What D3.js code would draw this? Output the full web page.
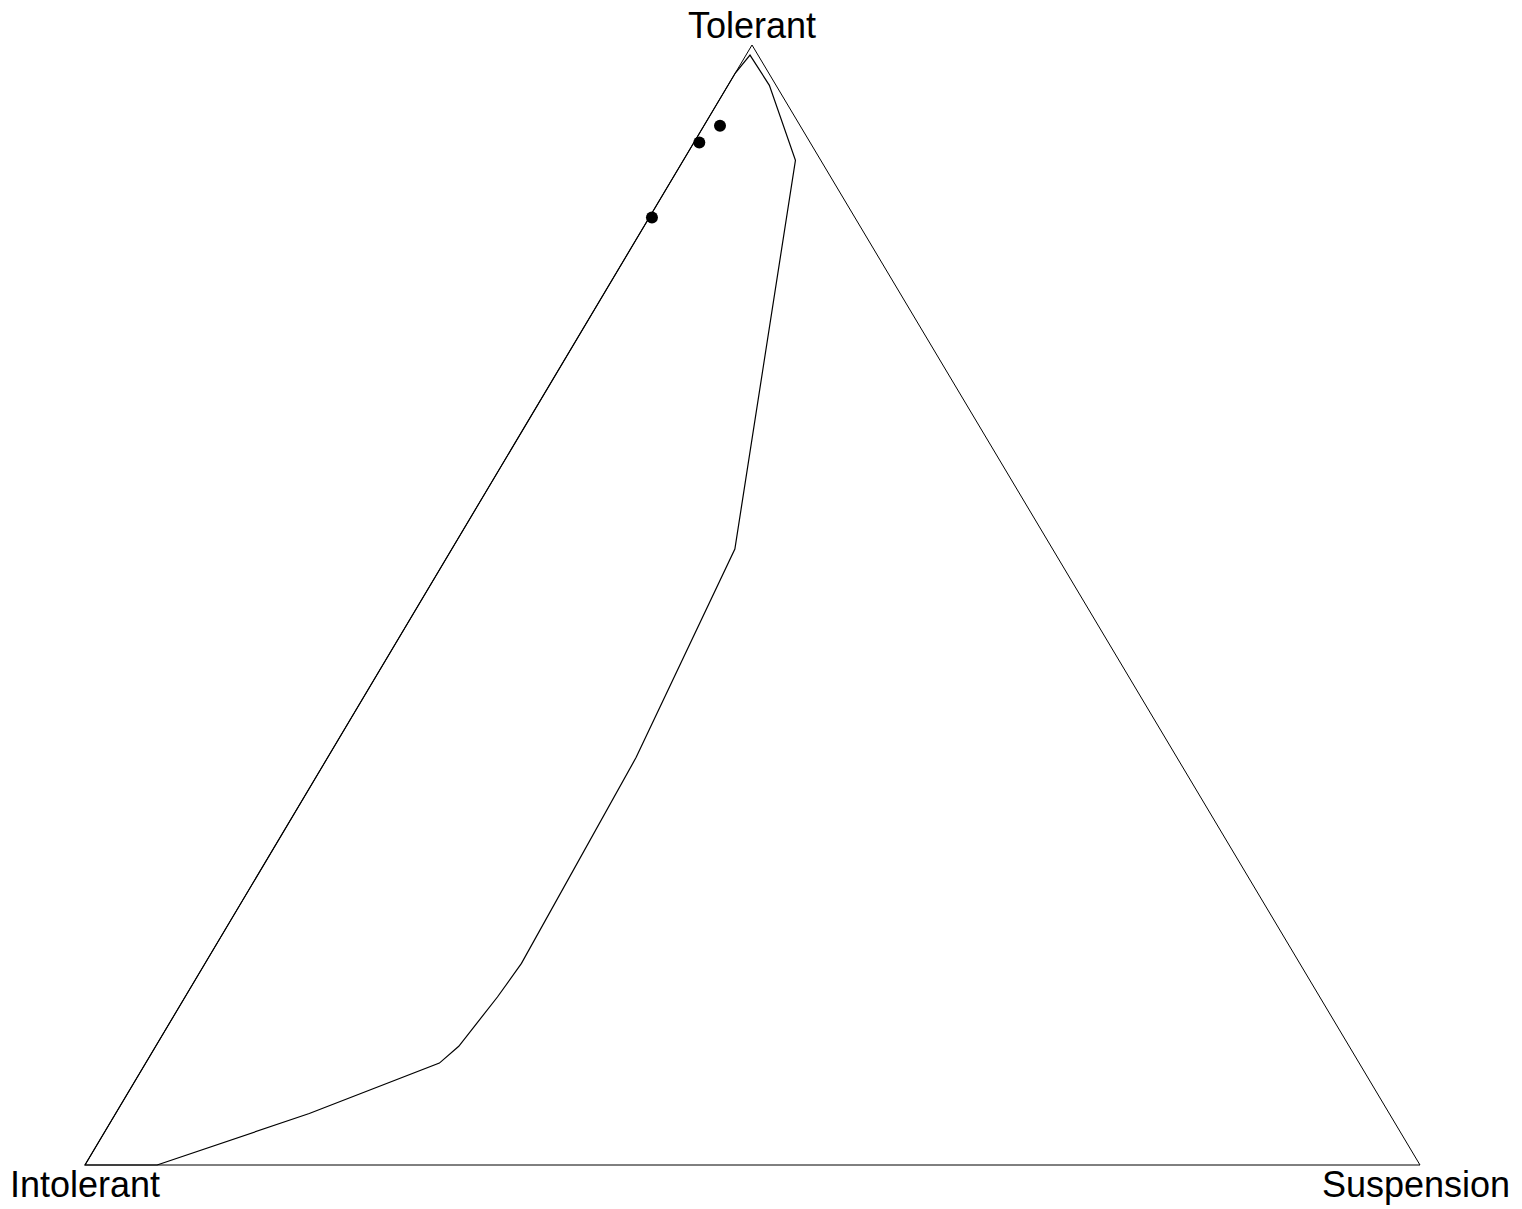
<!DOCTYPE html>
<html>
<head>
<meta charset="utf-8">
<script src="https://cdn.jsdelivr.net/npm/d3@7"></script>
<style>
  html, body { margin: 0; padding: 0; background: #fff; }
  svg { display: block; }
  text { font-family: "Liberation Sans", Arial, sans-serif; }
</style>
</head>
<body>
<svg id="chart" width="1522" height="1209"></svg>
<script>
// Corner labels of the ternary diagram (top, bottom-left, bottom-right)
const cornerLabels = ["Tolerant", "Intolerant", "Suspension"];

// Observed compositions: [tolerant, intolerant, suspension]
const pointTolerant   = [0.928, 0.913, 0.846];
const pointIntolerant = [0.060, 0.083, 0.152];
const pointSuspension = [0.012, 0.004, 0.002];

// Envelope polygon of possible compositions: [tolerant, suspension], intolerant = remainder
const envTolerant   = [0.000, 0.046, 0.091, 0.106, 0.150, 0.180, 0.364, 0.550, 0.897, 0.964, 0.991, 0.975, 0.000];
const envSuspension = [0.054, 0.145, 0.220, 0.227, 0.234, 0.237, 0.231, 0.212, 0.084, 0.031, 0.003, 0.000, 0.000];

const svg = d3.select("#chart");

// Corner positions in pixels
const apexT = [752, 45], cornerI = [85, 1165], cornerS = [1420, 1165];

// Linear scales for the barycentric -> cartesian mapping
const yScale = d3.scaleLinear().domain([0, 1]).range([cornerI[1], apexT[1]]);
const xBase = d3.scaleLinear().domain([0, 1]).range([cornerI[0], cornerS[0]]);
const xShift = d3.scaleLinear().domain([0, 1]).range([0, apexT[0] - cornerI[0]]);

function project(t, s) {
  return [xBase(s) + xShift(t), yScale(t)];
}

const line = d3.line();

// Outer triangle
svg.append("path")
  .attr("d", line([project(1, 0), project(0, 0), project(0, 1)]) + "Z")
  .attr("fill", "none")
  .attr("stroke", "#000")
  .attr("stroke-width", 1);

// Envelope polygon
const envPts = envTolerant.map((t, i) => project(t, envSuspension[i]));
svg.append("path")
  .attr("d", line(envPts) + "Z")
  .attr("fill", "none")
  .attr("stroke", "#000")
  .attr("stroke-width", 1.2);

// Data points
svg.selectAll("circle.obs")
  .data(pointTolerant.map((t, i) => ({ t, i: pointIntolerant[i], s: pointSuspension[i] })))
  .join("circle")
  .attr("class", "obs")
  .attr("cx", d => project(d.t, d.s)[0])
  .attr("cy", d => project(d.t, d.s)[1])
  .attr("r", 6)
  .attr("fill", "#000");

// Corner labels
const labelPos = [
  [apexT[0], 38],
  [cornerI[0], 1197],
  [cornerS[0] - 4, 1197]
];
svg.selectAll("text.corner")
  .data(cornerLabels)
  .join("text")
  .attr("class", "corner")
  .attr("x", (d, i) => labelPos[i][0])
  .attr("y", (d, i) => labelPos[i][1])
  .attr("text-anchor", "middle")
  .attr("font-size", 36)
  .attr("fill", "#000")
  .text(d => d);
</script>
</body>
</html>
